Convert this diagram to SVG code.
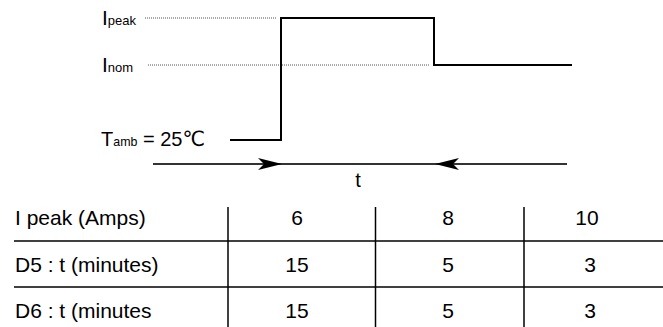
<svg xmlns="http://www.w3.org/2000/svg" width="663" height="327" viewBox="0 0 663 327">
<style>
text{font-family:"Liberation Sans","DejaVu Sans",Arial,sans-serif;fill:#000}
.lbl{font-size:21px}
.sub{font-size:13px}
.cell{font-size:21px}
.num{font-size:21px;text-anchor:middle}
.dot{stroke:#555;stroke-width:1;stroke-dasharray:1 1;fill:none}
.wave{stroke:#000;stroke-width:2;fill:none}
.tl{stroke:#000;stroke-width:1.5;fill:none}
.ax{stroke:#333;stroke-width:2;fill:none}
</style>
<g id="labels">
<text x="102" y="25" class="lbl">I<tspan class="sub">peak</tspan></text>
<text x="102" y="72" class="lbl">I<tspan class="sub">nom</tspan></text>
<text x="101" y="146" class="lbl" textLength="104" lengthAdjust="spacingAndGlyphs">T<tspan class="sub">amb</tspan> = 25℃</text>
</g>
<g id="guides">
<line x1="145" y1="18" x2="276" y2="18" class="dot"/>
<line x1="148" y1="65" x2="430" y2="65" class="dot"/>
</g>
<g id="waveform">
<path d="M230,140 H281 V18 H434 V65 H572" class="wave"/>
</g>
<g id="connectors">
<line x1="153" y1="164" x2="567" y2="164" class="ax"/>
<path d="M282,164 L258,158 L264,164 L258,170 Z" fill="#000"/>
<path d="M435,164 L459,158 L453,164 L459,170 Z" fill="#000"/>
<text x="358" y="187" class="num" style="font-size:20px">t</text>
</g>
<g id="table">
<line x1="14" y1="241" x2="663" y2="241" class="tl"/>
<line x1="14" y1="287" x2="663" y2="287" class="tl"/>
<line x1="228" y1="207" x2="228" y2="327" class="tl"/>
<line x1="375.5" y1="207" x2="375.5" y2="327" class="tl"/>
<line x1="524" y1="207" x2="524" y2="327" class="tl"/>
<text x="15" y="225" class="cell">I peak (Amps)</text>
<text x="297" y="225" class="num">6</text>
<text x="448" y="225" class="num">8</text>
<text x="587" y="225" class="num">10</text>
<text x="15" y="272" class="cell">D5 : t (minutes)</text>
<text x="297" y="272" class="num">15</text>
<text x="448" y="272" class="num">5</text>
<text x="590" y="272" class="num">3</text>
<text x="15" y="318" class="cell">D6 : t (minutes</text>
<text x="297" y="318" class="num">15</text>
<text x="448" y="318" class="num">5</text>
<text x="590" y="318" class="num">3</text>
</g>
</svg>
